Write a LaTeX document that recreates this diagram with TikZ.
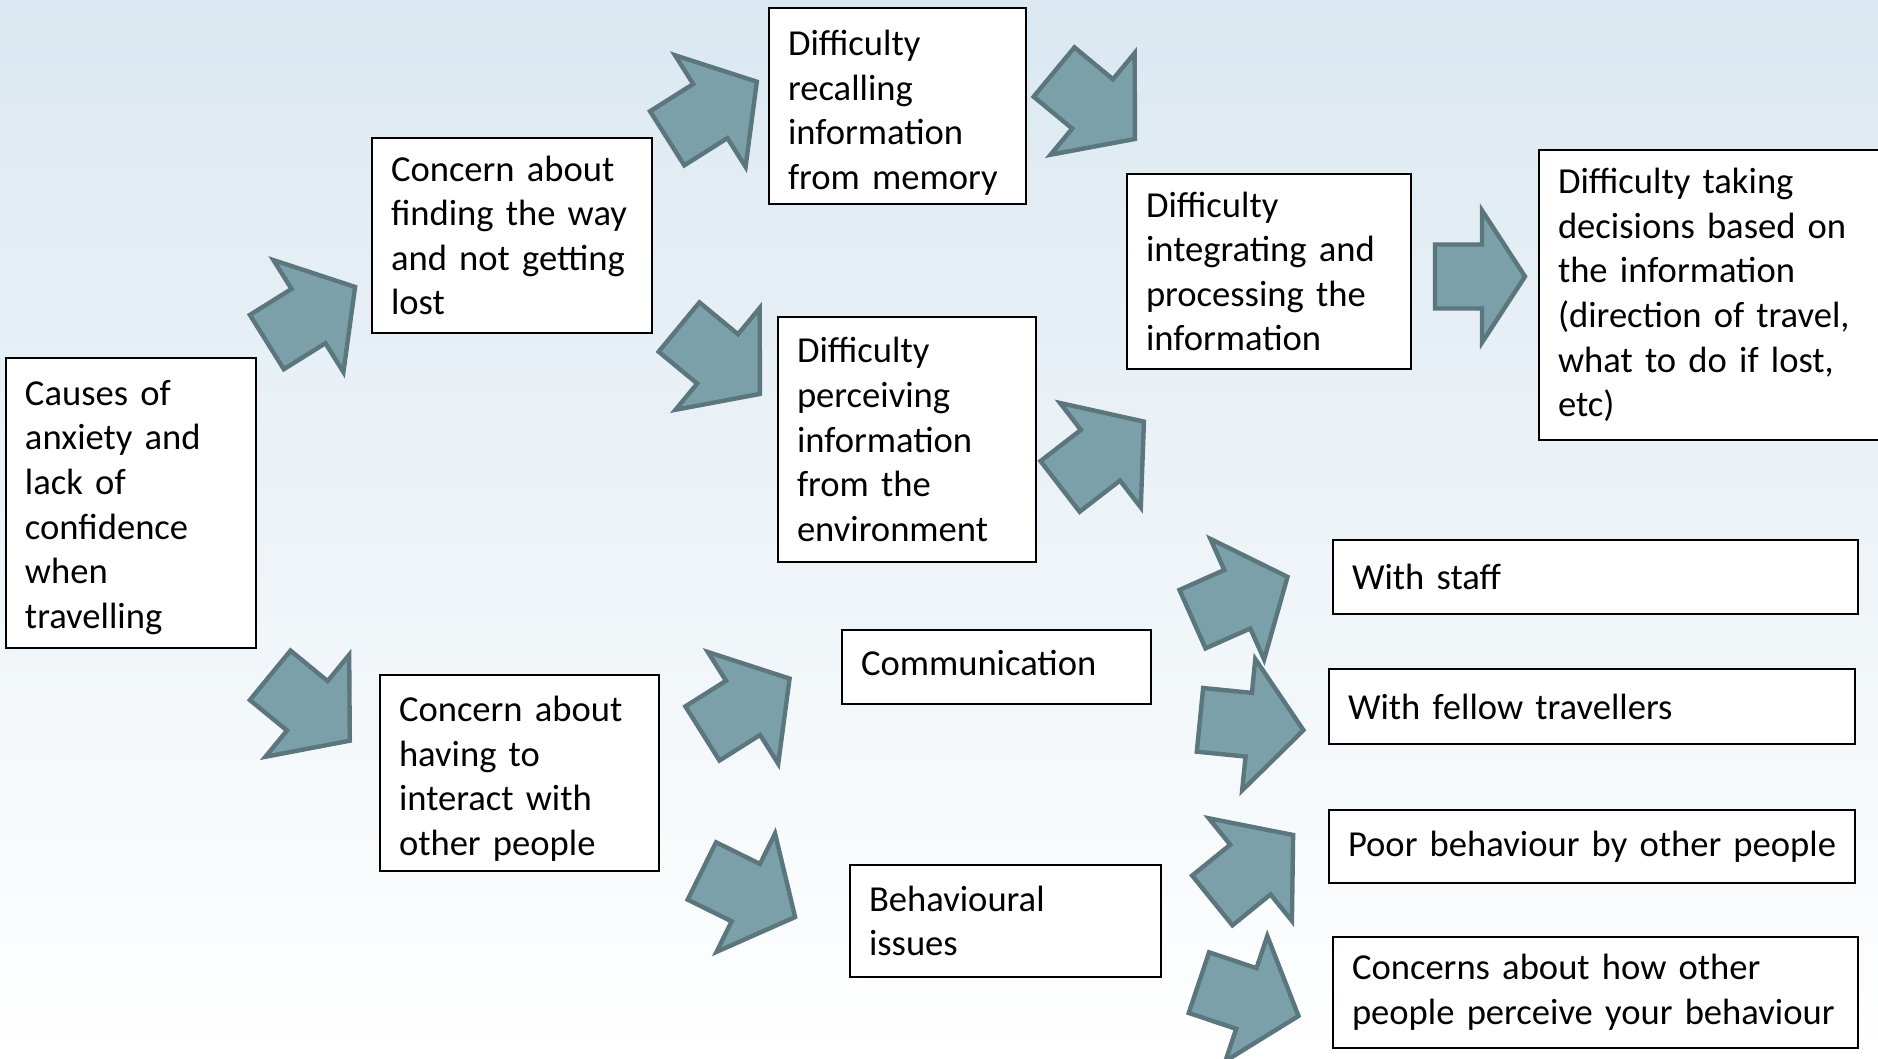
\documentclass[tikz,border=0pt]{standalone}
\usepackage{fontspec}
\setmainfont{Carlito}
\hyphenpenalty=10000
\exhyphenpenalty=10000
\definecolor{bgtop}{RGB}{219,232,241}
\definecolor{arrfill}{RGB}{123,160,170}
\definecolor{arrline}{RGB}{91,118,125}
\tikzset{
  box/.style={draw=black, line width=1pt, fill=white, anchor=north west,
    inner xsep=9.5pt, inner ysep=0pt, outer sep=0pt, align=left, text=black,
    font=\fontsize{18.3pt}{22.3pt}\selectfont},
  blockarrow/.style={fill=arrfill, draw=arrline, line width=2.2pt, line join=miter}
}
\newcommand{\lift}[1]{\rule{0pt}{#1}}
\begin{document}
\begin{tikzpicture}[x=0.5pt,y=-0.5pt]
\clip (0,0) rectangle (1878,1059);
\shade[top color=bgtop, bottom color=white] (0,0) rectangle (1878,1059);

% block arrows: centre x / centre y / angle / length / head length
\foreach \cx/\cy/\ang/\L/\hl in {
  311/314.5/32/104/55,
  712/110/32.3/106/55,
  719.5/360.5/-39.6/105/55,
  1094.5/105.5/-39.6/105/55,
  1102/454/37.7/106/55,
  310/708/-39.4/103/55,
  746/706/32.2/103/55,
  748.5/894/-26.3/104/55,
  1240/598/24/104/55,
  1251.7/725/-5.7/104/55,
  1252.7/867.7/39/104/55,
  1248.7/999.3/-18.5/105/55,
  1480/276.5/0/90/43}{
  \begin{scope}[shift={(\cx,\cy)}, rotate=\ang]
    \draw[blockarrow] ({-\L/2},-32) -- ({\L/2-\hl},-32) -- ({\L/2-\hl},-66)
      -- ({\L/2},0) -- ({\L/2-\hl},66) -- ({\L/2-\hl},32) -- ({-\L/2},32) -- cycle;
  \end{scope}
}

\node[box, text width=106pt, minimum width=125pt, minimum height=145pt] (causes) at (6,358)
  {\lift{17pt}Causes of\\anxiety and\\lack of\\confidence\\when\\travelling};
\node[box, text width=121pt, minimum width=140pt, minimum height=97.5pt] (way) at (372,138)
  {Concern about\\finding the way\\and not getting\\lost};
\node[box, text width=109.5pt, minimum width=128.5pt, minimum height=98pt] (recall) at (769,8)
  {\lift{19.5pt}Difficulty\\recalling\\information\\from memory};
\node[box, text width=110pt, minimum width=129pt, minimum height=122.5pt] (perceive) at (778,317)
  {Difficulty\\perceiving\\information\\from the\\environment};
\node[box, text width=123pt, minimum width=142pt, minimum height=97.5pt] (integrate) at (1127,174)
  {Difficulty\\integrating and\\processing the\\information};
\node[box, text width=161.5pt, minimum width=180.5pt, minimum height=145pt] (decide) at (1539,150)
  {Difficulty taking\\decisions based on\\the information\\(direction of travel,\\what to do if lost,\\etc)};
\node[box, text width=120.5pt, minimum width=139.5pt, minimum height=98pt] (interact) at (380,675)
  {\lift{18.5pt}Concern about\\having to\\interact with\\other people};
\node[box, text width=135.5pt, minimum width=154.5pt, minimum height=37pt] (comm) at (842,630)
  {\mbox{Communication}\rule[-4pt]{0pt}{0pt}};
\node[box, text width=136.5pt, minimum width=155.5pt, minimum height=56pt] (behav) at (850,865)
  {Behavioural\\issues};
\node[box, text width=243.5pt, minimum width=262.5pt, minimum height=37pt] (staff) at (1333,540)
  {\mbox{With staff}};
\node[box, text width=244pt, minimum width=263pt, minimum height=37.5pt] (fellow) at (1329,669)
  {\mbox{With fellow travellers}};
\node[box, text width=244pt, minimum width=263pt, minimum height=36.5pt] (poor) at (1329,810)
  {\mbox{Poor behaviour by other people}};
\node[box, text width=243.5pt, minimum width=262.5pt, minimum height=55.5pt] (perceivebeh) at (1333,937)
  {\mbox{Concerns about how other}\\\mbox{people perceive your behaviour}};
\end{tikzpicture}
\end{document}
